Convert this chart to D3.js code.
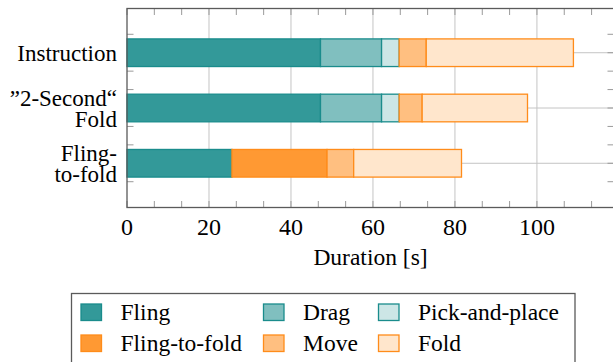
<!DOCTYPE html>
<html lang="en">
<head>
    <meta charset="UTF-8">
    <script src="https://cdn.jsdelivr.net/npm/d3@7"></script>
    <style>
        svg text, svg tspan { font-family: "Liberation Serif", "Times New Roman", serif !important; }
    </style>
</head>
<body style="margin:0">
<svg id="chart" width="613" height="362" font-family="Liberation Serif, Times New Roman, serif"></svg>
<script>
    // DATA
    const CATEGORIES = ["Instruction", "\u201D2-Second\u201C Fold", "Fling-to-fold"];
    const CATEGORY_LINES = [["Instruction"], ["\u201D2-Second\u201C", "Fold"], ["Fling-", "to-fold"]];
    const SERIES = ["Fling", "Drag", "Pick-and-place", "Fling-to-fold", "Move", "Fold"];
    // durations [s] per series, one value per category
    const FLING = [47.2, 47.2, 25.6];
    const DRAG = [14.9, 14.9, 0];
    const PICK_AND_PLACE = [4.3, 4.3, 0];
    const FLING_TO_FOLD = [0, 0, 23.2];
    const MOVE = [6.6, 5.6, 6.5];
    const FOLD = [35.9, 25.7, 26.3];
    const X_TICKS = [0, 20, 40, 60, 80, 100];

    // colours (fill, stroke) per series
    const FILLS = ["#339999", "#80bfbf", "#cce6e6", "#ff9933", "#ffbf80", "#ffe6cc"];
    const STROKES = ["#1a8c8c", "#1a8c8c", "#1a8c8c", "#ff8c1a", "#ff8c1a", "#ff8c1a"];

    const SERIF = "'Liberation Serif', 'Times New Roman', serif";
    const LEFT = 127, RIGHT = 614, TOP = 8.5, BOTTOM = 207.5;

    // table for d3.stack
    const seriesValues = [FLING, DRAG, PICK_AND_PLACE, FLING_TO_FOLD, MOVE, FOLD];
    const table = CATEGORIES.map((c, i) => {
        const row = { category: c, index: i };
        SERIES.forEach((s, j) => { row[s] = seriesValues[j][i]; });
        return row;
    });
    const stacked = d3.stack().keys(SERIES)(table);

    const svg = d3.select("#chart");

    // scales
    const x = d3.scaleLinear().domain([0, 118.8]).range([LEFT, RIGHT]);
    const y = d3.scaleLinear().domain([-0.8, 2.8]).range([TOP, BOTTOM]);
    const barH = y(0.25) - y(-0.25);

    const minorX = d3.range(0, 119, 20 / 3);
    const minorY = [];
    [0, 1, 2].forEach(i => { minorY.push(i - 1 / 3, i, i + 1 / 3); });

    // grid
    const grid = svg.append("g");
    grid.selectAll("line.vg")
        .data(X_TICKS.filter(d => d > 0))
        .enter().append("line")
        .attr("x1", d => x(d)).attr("x2", d => x(d))
        .attr("y1", TOP).attr("y2", BOTTOM)
        .attr("stroke", "#c4c4c4").attr("stroke-width", 1);
    grid.selectAll("line.hg")
        .data([0, 1, 2])
        .enter().append("line")
        .attr("x1", LEFT).attr("x2", RIGHT)
        .attr("y1", d => y(d)).attr("y2", d => y(d))
        .attr("stroke", "#c4c4c4").attr("stroke-width", 1);

    // ticks (inward, both sides)
    const ticks = svg.append("g").attr("stroke", "#9a9a9a").attr("stroke-width", 1);
    minorX.forEach(v => {
        ticks.append("line").attr("x1", x(v)).attr("x2", x(v)).attr("y1", BOTTOM).attr("y2", BOTTOM - 6.5);
        ticks.append("line").attr("x1", x(v)).attr("x2", x(v)).attr("y1", TOP).attr("y2", TOP + 6.5);
    });
    minorY.forEach(v => {
        ticks.append("line").attr("x1", LEFT).attr("x2", LEFT + 6.5).attr("y1", y(v)).attr("y2", y(v));
        ticks.append("line").attr("x1", RIGHT).attr("x2", RIGHT - 6.5).attr("y1", y(v)).attr("y2", y(v));
    });

    // bars
    const bars = svg.append("g");
    stacked.forEach((layer, j) => {
        bars.selectAll(null)
            .data(layer.filter(d => d[1] - d[0] > 0))
            .enter().append("rect")
            .attr("x", d => x(d[0]))
            .attr("y", d => y(d.data.index) - barH / 2)
            .attr("width", d => x(d[1]) - x(d[0]))
            .attr("height", barH)
            .attr("fill", FILLS[j])
            .attr("stroke", STROKES[j])
            .attr("stroke-width", 1.3);
    });

    // frame
    svg.append("rect")
        .attr("x", LEFT).attr("y", TOP)
        .attr("width", RIGHT - LEFT).attr("height", BOTTOM - TOP)
        .attr("fill", "none").attr("stroke", "#5a5a5a").attr("stroke-width", 1.3);

    // helper: serif text, forced with !important
    function serifText(sel, size) {
        return sel.each(function () {
            this.style.setProperty("font-family", SERIF, "important");
            this.style.setProperty("font-size", size + "px", "important");
        });
    }

    // x tick labels
    serifText(svg.append("g").selectAll("text")
        .data(X_TICKS)
        .enter().append("text")
        .attr("x", d => x(d)).attr("y", 234.5)
        .attr("text-anchor", "middle")
        .text(d => String(d)), 24);

    serifText(svg.append("text")
        .attr("x", (LEFT + RIGHT) / 2).attr("y", 264.5)
        .attr("text-anchor", "middle")
        .text("Duration [s]"), 23.5);

    // y labels
    const lineGap = 21;
    CATEGORY_LINES.forEach((lines, i) => {
        const first = y(i) + 8.5 - (lines.length - 1) * lineGap / 2;
        lines.forEach((ln, k) => {
            serifText(svg.append("text")
                .attr("x", 117).attr("y", first + k * lineGap)
                .attr("text-anchor", "end")
                .text(ln), 23);
        });
    });

    // legend
    const legend = svg.append("g");
    legend.append("rect")
        .attr("x", 71.5).attr("y", 293.5)
        .attr("width", 503.5).attr("height", 80)
        .attr("fill", "#fff").attr("stroke", "#5a5a5a").attr("stroke-width", 1.3);
    const colX = [81, 263.5, 378.5];
    const rowY = [304, 335];
    SERIES.forEach((s, j) => {
        const cx = colX[j % 3], cy = rowY[Math.floor(j / 3)];
        legend.append("rect")
            .attr("x", cx).attr("y", cy)
            .attr("width", 20.5).attr("height", 16.5)
            .attr("fill", FILLS[j]).attr("stroke", STROKES[j]).attr("stroke-width", 1.3);
        serifText(legend.append("text")
            .attr("x", cx + 39.5).attr("y", cy + 16)
            .text(s), 23.5);
    });
</script>
</body>
</html>
